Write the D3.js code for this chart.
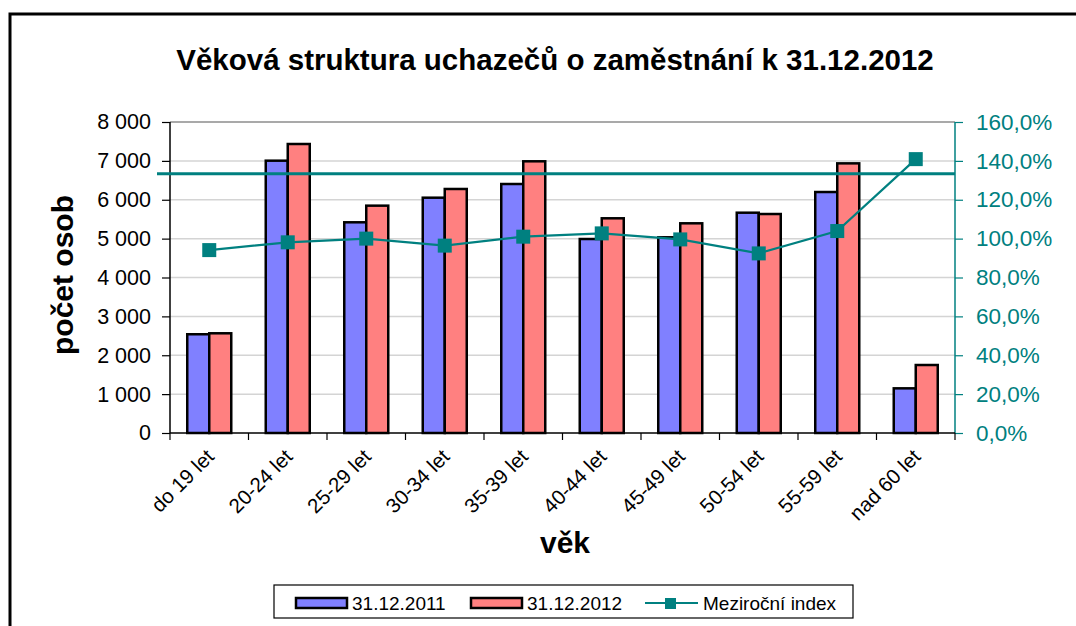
<!DOCTYPE html>
<html>
<head>
<meta charset="utf-8">
<script src="https://cdn.jsdelivr.net/npm/d3@7/dist/d3.min.js"></script>
<style>
  html, body { margin: 0; padding: 0; background: #fff; }
  svg { display: block; font-family: Arial, "Liberation Sans", sans-serif; }
</style>
</head>
<body>
<svg id="chart" width="1076" height="626"></svg>
<script>
const categories = ["do 19 let", "20-24 let", "25-29 let", "30-34 let", "35-39 let", "40-44 let", "45-49 let", "50-54 let", "55-59 let", "nad 60 let"];
const series2011 = [2540, 7005, 5420, 6053, 6405, 4990, 5034, 5667, 6199, 1149];
const series2012 = [2565, 7434, 5848, 6277, 6989, 5523, 5394, 5633, 6936, 1749];
const indexValues = [94.1, 98.1, 100.0, 96.4, 101.0, 102.7, 99.6, 92.4, 103.9, 140.9];
const refLineValue = 133.4;
const leftTicks = [0, 1000, 2000, 3000, 4000, 5000, 6000, 7000, 8000];
const rightTicks = [0, 20, 40, 60, 80, 100, 120, 140, 160];
const seriesNames = ["31.12.2011", "31.12.2012", "Meziroční index"];
const colors = { blue: "#8080FF", red: "#FF8080", teal: "#008080" };

const svg = d3.select("#chart");
const m = { left: 170, right: 955, top: 122, bottom: 433 };

// outer frame
svg.append("rect").attr("x", 10).attr("y", 14).attr("width", 1100).attr("height", 700)
  .attr("fill", "none").attr("stroke", "#000").attr("stroke-width", 3);

const x = d3.scaleBand().domain(categories).range([m.left, m.right]).padding(0);
const yL = d3.scaleLinear().domain([0, 8000]).range([m.bottom, m.top]);
const yR = d3.scaleLinear().domain([0, 160]).range([m.bottom, m.top]);

// gridlines
svg.append("g").selectAll("line").data(leftTicks.filter(d => d > 0 && d < 8000)).join("line")
  .attr("x1", m.left).attr("x2", m.right)
  .attr("y1", d => yL(d)).attr("y2", d => yL(d))
  .attr("stroke", "#d4d4d4").attr("stroke-width", 1.5);
svg.append("line").attr("x1", m.left).attr("x2", m.right).attr("y1", yL(8000)).attr("y2", yL(8000))
  .attr("stroke", "#8c8c8c").attr("stroke-width", 1.5);

// bars
const bw = 22;
const g = svg.append("g");
g.selectAll("rect.b1").data(categories).join("rect").attr("class", "b1")
  .attr("x", (d) => x(d) + x.bandwidth() / 2 - bw)
  .attr("y", (d, i) => yL(series2011[i]))
  .attr("width", bw).attr("height", (d, i) => yL(0) - yL(series2011[i]))
  .attr("fill", colors.blue).attr("stroke", "#000").attr("stroke-width", 2.5);
g.selectAll("rect.b2").data(categories).join("rect").attr("class", "b2")
  .attr("x", (d) => x(d) + x.bandwidth() / 2)
  .attr("y", (d, i) => yL(series2012[i]))
  .attr("width", bw).attr("height", (d, i) => yL(0) - yL(series2012[i]))
  .attr("fill", colors.red).attr("stroke", "#000").attr("stroke-width", 2.5);

const FF = "Arial, 'Liberation Sans', sans-serif";

// left axis
const axL = d3.axisLeft(yL).tickValues(leftTicks).tickSize(8).tickPadding(11)
  .tickFormat(d => d3.format(",")(d).replace(/,/g, " "));
const gL = svg.append("g").attr("transform", `translate(${m.left},0)`).call(axL);
gL.select(".domain").attr("stroke", "#000").attr("stroke-width", 1.5).attr("d", `M0,${m.top}V${m.bottom}`);
gL.selectAll(".tick line").attr("stroke", "#000").attr("stroke-width", 1.2);
gL.selectAll(".tick text").attr("font-size", 21.5).attr("fill", "#000").attr("font-family", FF);

// right axis
const axR = d3.axisRight(yR).tickValues(rightTicks).tickSize(8).tickPadding(13)
  .tickFormat(d => d3.format(".1f")(d).replace(".", ",") + "%");
const gR = svg.append("g").attr("transform", `translate(${m.right},0)`).call(axR);
gR.select(".domain").attr("stroke", colors.teal).attr("stroke-width", 1.5).attr("d", `M0,${m.top}V${m.bottom}`);
gR.selectAll(".tick line").attr("stroke", colors.teal).attr("stroke-width", 1.2);
gR.selectAll(".tick text").attr("font-size", 22.5).attr("fill", colors.teal).attr("font-family", FF);

// bottom axis
const gB = svg.append("g").attr("transform", `translate(0,${m.bottom})`);
gB.append("line").attr("x1", m.left).attr("x2", m.right).attr("y1", 0).attr("y2", 0)
  .attr("stroke", "#000").attr("stroke-width", 1.5);
const bounds = categories.map(c => x(c)).concat([m.right]);
gB.selectAll("line.t").data(bounds).join("line").attr("class", "t")
  .attr("x1", d => d).attr("x2", d => d).attr("y1", 0).attr("y2", 7)
  .attr("stroke", "#000").attr("stroke-width", 1.2);
gB.selectAll("text").data(categories).join("text")
  .attr("transform", d => `translate(${x(d) + x.bandwidth() / 2 + 6},${25}) rotate(-45)`)
  .attr("text-anchor", "end").attr("font-size", 20.5).attr("fill", "#000")
  .text(d => d);

// reference horizontal line
svg.append("line").attr("x1", 157).attr("x2", m.right)
  .attr("y1", yR(refLineValue)).attr("y2", yR(refLineValue))
  .attr("stroke", colors.teal).attr("stroke-width", 3);

// index line
const line = d3.line().x((d, i) => x(categories[i]) + x.bandwidth() / 2).y(d => yR(d));
svg.append("path").datum(indexValues).attr("d", line)
  .attr("fill", "none").attr("stroke", colors.teal).attr("stroke-width", 2.2);
svg.append("g").selectAll("rect").data(indexValues).join("rect")
  .attr("x", (d, i) => x(categories[i]) + x.bandwidth() / 2 - 7)
  .attr("y", d => yR(d) - 7).attr("width", 14).attr("height", 14)
  .attr("fill", colors.teal);

// titles
svg.append("text").attr("x", 555).attr("y", 70).attr("text-anchor", "middle")
  .attr("font-size", 29.5).attr("font-weight", "bold").text("Věková struktura uchazečů o zaměstnání k 31.12.2012");
svg.append("text").attr("transform", "translate(73,275) rotate(-90)").attr("text-anchor", "middle")
  .attr("font-size", 30).attr("font-weight", "bold").text("počet osob");
svg.append("text").attr("x", 565).attr("y", 553).attr("text-anchor", "middle")
  .attr("font-size", 30).attr("font-weight", "bold").text("věk");

// legend
const lg = svg.append("g");
lg.append("rect").attr("x", 274).attr("y", 585).attr("width", 579).attr("height", 33)
  .attr("fill", "#fff").attr("stroke", "#000").attr("stroke-width", 1.2);
lg.append("rect").attr("x", 296).attr("y", 598).attr("width", 51).attr("height", 10)
  .attr("fill", colors.blue).attr("stroke", "#000").attr("stroke-width", 2.5);
lg.append("text").attr("x", 352).attr("y", 610).attr("font-size", 19).text(seriesNames[0]);
lg.append("rect").attr("x", 471).attr("y", 598).attr("width", 51).attr("height", 10)
  .attr("fill", colors.red).attr("stroke", "#000").attr("stroke-width", 2.5);
lg.append("text").attr("x", 527).attr("y", 610).attr("font-size", 19).text(seriesNames[1]);
lg.append("line").attr("x1", 645).attr("x2", 698).attr("y1", 603).attr("y2", 603)
  .attr("stroke", colors.teal).attr("stroke-width", 2.2);
lg.append("rect").attr("x", 665).attr("y", 598).attr("width", 11).attr("height", 11).attr("fill", colors.teal);
lg.append("text").attr("x", 703).attr("y", 610).attr("font-size", 19).text(seriesNames[2]);
</script>
</body>
</html>
